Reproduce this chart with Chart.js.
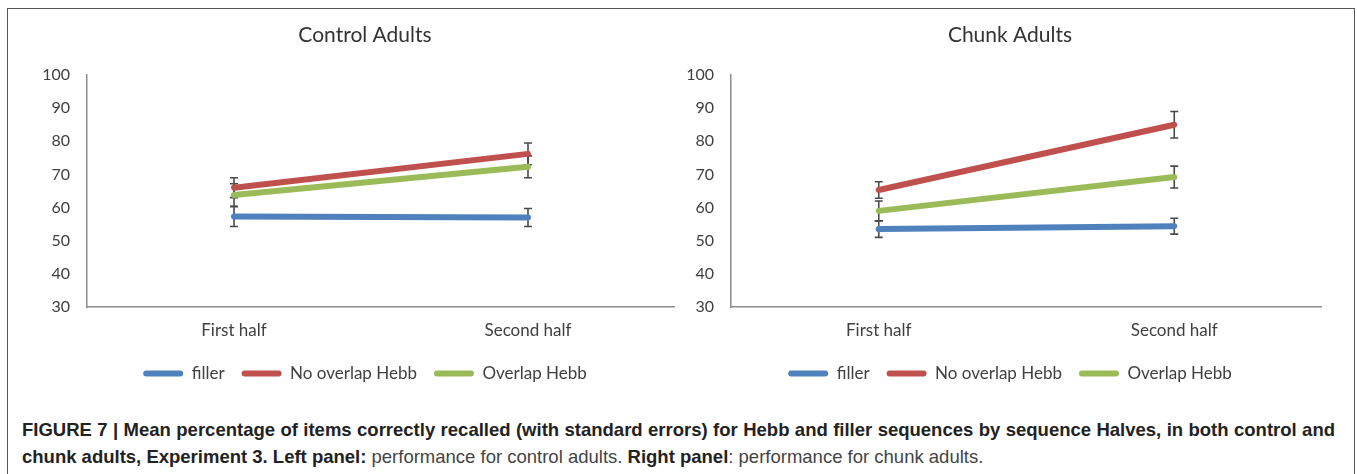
<!DOCTYPE html>
<html>
<head>
<meta charset="utf-8">
<script src="https://cdn.jsdelivr.net/npm/chart.js@4.4.1/dist/chart.umd.min.js"></script>
<style>
  body { margin: 0; background: #fff; width: 1357px; height: 474px; overflow: hidden; position: relative; }
  #frame { position: absolute; left: 7px; top: 8px; width: 1346px; height: 470px; border: 1px solid #555; border-bottom: none; }
  .panel { position: absolute; top: 10px; height: 382px; }
  #leftWrap { left: 8px; width: 667px; }
  #rightWrap { left: 680px; width: 642px; }
  #caption { position: absolute; left: 22px; top: 416px; font-family: "Liberation Sans", Arial, sans-serif; font-size: 18.5px; line-height: 27px; color: #444; white-space: nowrap; }
  #caption b { color: #222; }
  #caption .l1 { width: 1313px; text-align: justify; text-align-last: justify; }
</style>
</head>
<body>
<div id="frame"></div>
<div class="panel" id="leftWrap"><canvas id="leftChart"></canvas></div>
<div class="panel" id="rightWrap"><canvas id="rightChart"></canvas></div>
<div id="caption"><div class="l1"><b>FIGURE 7 | Mean percentage of items correctly recalled (with standard errors) for Hebb and filler sequences by sequence Halves, in both control and</b></div><div><b>chunk adults, Experiment 3. Left panel:</b> performance for control adults. <b>Right panel</b>: performance for chunk adults.</div></div>
<script>
// categories and series names
const halves = ["First half", "Second half"];
const seriesNames = ["filler", "No overlap Hebb", "Overlap Hebb"];
const seriesColors = ["#4F81BD", "#C0504D", "#9BBB59"];

// control adults (left panel)
const controlFiller = [57.3, 57.0];
const controlFillerSE = [3.0, 2.7];
const controlNoOverlap = [66.0, 76.2];
const controlNoOverlapSE = [3.0, 3.3];
const controlOverlap = [63.8, 72.3];
const controlOverlapSE = [3.4, 3.3];

// chunk adults (right panel)
const chunkFiller = [53.5, 54.4];
const chunkFillerSE = [2.5, 2.4];
const chunkNoOverlap = [65.3, 85.0];
const chunkNoOverlapSE = [2.5, 4.0];
const chunkOverlap = [59.0, 69.2];
const chunkOverlapSE = [3.0, 3.3];

const yTicks = [30, 40, 50, 60, 70, 80, 90, 100];

const FONT = "Lato";

// draws the standard error bars under the lines
const errorBars = {
  id: "errorBars",
  beforeDatasetsDraw(chart) {
    const { ctx, scales: { x, y } } = chart;
    ctx.save();
    ctx.strokeStyle = "#4a4a4a";
    ctx.lineWidth = 1.6;
    chart.data.datasets.forEach((ds) => {
      ds.data.forEach((v, i) => {
        const px = x.getPixelForValue(i);
        const top = y.getPixelForValue(v + ds.se[i]);
        const bot = y.getPixelForValue(v - ds.se[i]);
        ctx.beginPath();
        ctx.moveTo(px, top); ctx.lineTo(px, bot);
        ctx.moveTo(px - 4, top); ctx.lineTo(px + 4, top);
        ctx.moveTo(px - 4, bot); ctx.lineTo(px + 4, bot);
        ctx.stroke();
      });
    });
    ctx.restore();
  },
};

// title and legend sit centred on the whole excel chart object, not on the plot box
const shiftBlocks = {
  id: "shiftBlocks",
  afterLayout(chart, args, opts) {
    [chart.titleBlock, chart.legend].forEach((b) => {
      if (!b) return;
      b.left += opts.dx;
      b.right += opts.dx;
    });
  },
};

function makeChart(id, title, values, errors, yWidth, dx) {
  const datasets = seriesNames.map((name, k) => ({
    label: name,
    data: values[k],
    se: errors[k],
    borderColor: seriesColors[k],
    backgroundColor: seriesColors[k],
    borderWidth: 6,
    borderCapStyle: "round",
    pointRadius: 0,
    tension: 0,
  }));

  return new Chart(document.getElementById(id), {
    type: "line",
    data: { labels: halves, datasets },
    plugins: [errorBars, shiftBlocks],
    options: {
      animation: false,
      responsive: true,
      maintainAspectRatio: false,
      layout: { padding: 0 },
      plugins: {
        shiftBlocks: { dx },
        title: {
          display: true,
          text: title,
          color: "#333",
          font: { family: FONT, size: 21, weight: "normal" },
          padding: { top: 12.4, bottom: 27.4 },
        },
        legend: {
          position: "bottom",
          labels: {
            color: "#404040",
            font: { family: FONT, size: 17 },
            boxWidth: 40,
            boxHeight: 6,
            padding: 17,
            useBorderRadius: true,
            borderRadius: 3,
            generateLabels(chart) {
              const items = Chart.defaults.plugins.legend.labels.generateLabels(chart);
              items.forEach((it) => { it.lineWidth = 0; });
              return items;
            },
          },
        },
        tooltip: { enabled: false },
      },
      scales: {
        x: {
          offset: true,
          afterFit(scale) { scale.height = 41; },
          grid: { display: false, drawTicks: false },
          border: { display: true, color: "#8c8c8c", width: 1.5 },
          ticks: { color: "#404040", font: { family: FONT, size: 17 }, padding: 13 },
        },
        y: {
          min: 30,
          max: 100,
          afterBuildTicks(scale) { scale.ticks = yTicks.map((v) => ({ value: v })); },
          afterFit(scale) { scale.width = yWidth; },
          grid: { display: false, drawTicks: false },
          border: { display: true, color: "#8c8c8c", width: 1.5 },
          ticks: { color: "#404040", font: { family: FONT, size: 16 }, padding: 17 },
        },
      },
    },
  });
}

makeChart("leftChart", "Control Adults",
  [controlFiller, controlNoOverlap, controlOverlap],
  [controlFillerSE, controlNoOverlapSE, controlOverlapSE], 79, 23.5);

makeChart("rightChart", "Chunk Adults",
  [chunkFiller, chunkNoOverlap, chunkOverlap],
  [chunkFillerSE, chunkNoOverlapSE, chunkOverlapSE], 51, 9);
</script>
</body>
</html>
